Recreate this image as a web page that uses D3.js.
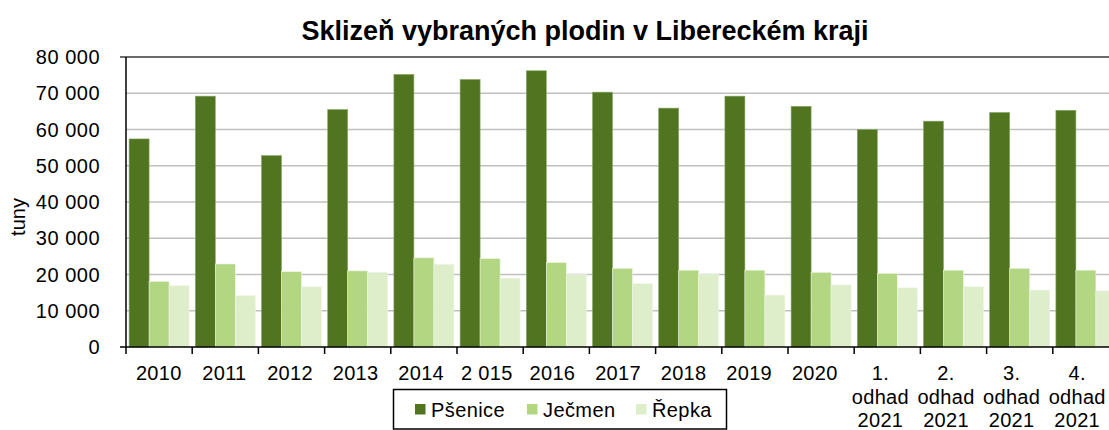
<!DOCTYPE html>
<html><head><meta charset="utf-8">
<script src="https://cdn.jsdelivr.net/npm/d3@7"></script>
<style>
html,body{margin:0;padding:0;background:#fff;overflow:hidden;}
text{font-family:"Liberation Sans",Arial,sans-serif;fill:#000;}
</style></head>
<body><svg id="c" width="1109" height="430"></svg>
<script>
const categories = ["2010","2011","2012","2013","2014","2 015","2016","2017","2018","2019","2020","1.|odhad|2021","2.|odhad|2021","3.|odhad|2021","4.|odhad|2021"];
const seriesNames = ["Pšenice","Ječmen","Řepka"];
const psenice = [57400,69200,52800,65500,75200,73800,76200,70300,65900,69200,66400,60000,62300,64700,65300];
const jecmen  = [18100,22900,20800,21000,24600,24400,23300,21700,21200,21200,20600,20300,21200,21700,21200];
const repka   = [16900,14200,16600,20600,22800,19000,20000,17500,20100,14300,17100,16300,16600,15700,15500];
const yTicks = [0,10000,20000,30000,40000,50000,60000,70000,80000];
const title = "Sklizeň vybraných plodin v Libereckém kraji";
const yLabel = "tuny";

const colors = ["#50741f","#b2d682","#deedca"];
const values = [psenice, jecmen, repka];

const svg = d3.select("#c");
const pL = 126, pR = 1119, pT = 57, pB = 347;

const x = d3.scaleBand().domain(categories).range([pL, pR]).padding(0);
const xLab = d3.scaleBand().domain(categories).range([pL, pR - 9]).padding(0);
const x1 = d3.scaleBand().domain(seriesNames).range([0, x.bandwidth()]).paddingOuter(0.155).paddingInner(0);
const y = d3.scaleLinear().domain([0,80000]).range([pB, pT]);

const fmt = v => d3.format(",")(v).replace(/,/g, " ");

// title
svg.append("text").attr("x", 585).attr("y", 40).attr("text-anchor","middle")
  .style("font-size","27px").style("font-weight","bold").text(title);

// gridlines
svg.append("g").selectAll("line").data(yTicks.filter(t => t > 0 && t < 80000)).join("line")
  .attr("x1", pL).attr("x2", 1109).attr("y1", d => y(d)).attr("y2", d => y(d))
  .attr("stroke","#c0c0c0").attr("stroke-width",1.5);
// top line
svg.append("line").attr("x1", pL - 6).attr("x2", 1109).attr("y1", y(80000)).attr("y2", y(80000))
  .attr("stroke","#3a3a3a").attr("stroke-width",1.5);

// bars
const g = svg.append("g");
seriesNames.forEach((s, si) => {
  g.append("g").selectAll("rect").data(values[si]).join("rect")
    .attr("x", (d,i) => x(categories[i]) + x1(s))
    .attr("width", x1.bandwidth())
    .attr("y", d => y(d))
    .attr("height", d => y(0) - y(d))
    .attr("fill", colors[si])
    .attr("stroke", si === 0 ? "#8aa86a" : "#eef5e4").attr("stroke-width", 0.6);
});

// y axis
svg.append("line").attr("x1", pL).attr("x2", pL).attr("y1", pT).attr("y2", pB)
  .attr("stroke","#000").attr("stroke-width",1.5);
svg.append("g").selectAll("text").data(yTicks).join("text")
  .attr("x", 100).attr("y", d => y(d)).attr("dy","0.36em").attr("text-anchor","end")
  .style("font-size","20px").style("letter-spacing","0.5px").text(fmt);

// x axis
svg.append("line").attr("x1", pL - 6).attr("x2", 1109).attr("y1", pB).attr("y2", pB)
  .attr("stroke","#000").attr("stroke-width",1.5);
svg.append("g").selectAll("line").data(categories).join("line")
  .attr("x1", d => x(d)).attr("x2", d => x(d)).attr("y1", pB).attr("y2", pB + 7)
  .attr("stroke","#000").attr("stroke-width",1.5);
const xl = svg.append("g").selectAll("text").data(categories).join("text")
  .attr("x", d => xLab(d) + xLab.bandwidth()/2).attr("y", 380).attr("text-anchor","middle")
  .style("font-size","20px").style("letter-spacing","0.3px");
xl.each(function(d){
  const parts = d.split("|");
  const t = d3.select(this);
  parts.forEach((p, k) => {
    t.append("tspan").attr("x", xLab(d) + xLab.bandwidth()/2).attr("dy", k === 0 ? 0 : 23.5).text(p);
  });
});

// y label
svg.append("text").attr("transform","translate(25,217) rotate(-90)").attr("text-anchor","middle")
  .style("font-size","20px").text(yLabel);

// legend
const lg = svg.append("g");
lg.append("rect").attr("x", 393.5).attr("y", 389.5).attr("width", 333).attr("height", 39.5)
  .attr("fill","#fff").attr("stroke","#000").attr("stroke-width",1.5);
const legX = [415, 527, 636];
seriesNames.forEach((s, i) => {
  lg.append("rect").attr("x", legX[i]).attr("y", 404).attr("width", 10.5).attr("height", 10.5).attr("fill", colors[i]);
  lg.append("text").attr("x", legX[i] + 16).attr("y", 409.5).attr("dy","0.36em")
    .style("font-size","20px").style("letter-spacing","0.4px").text(s);
});
</script></body></html>
